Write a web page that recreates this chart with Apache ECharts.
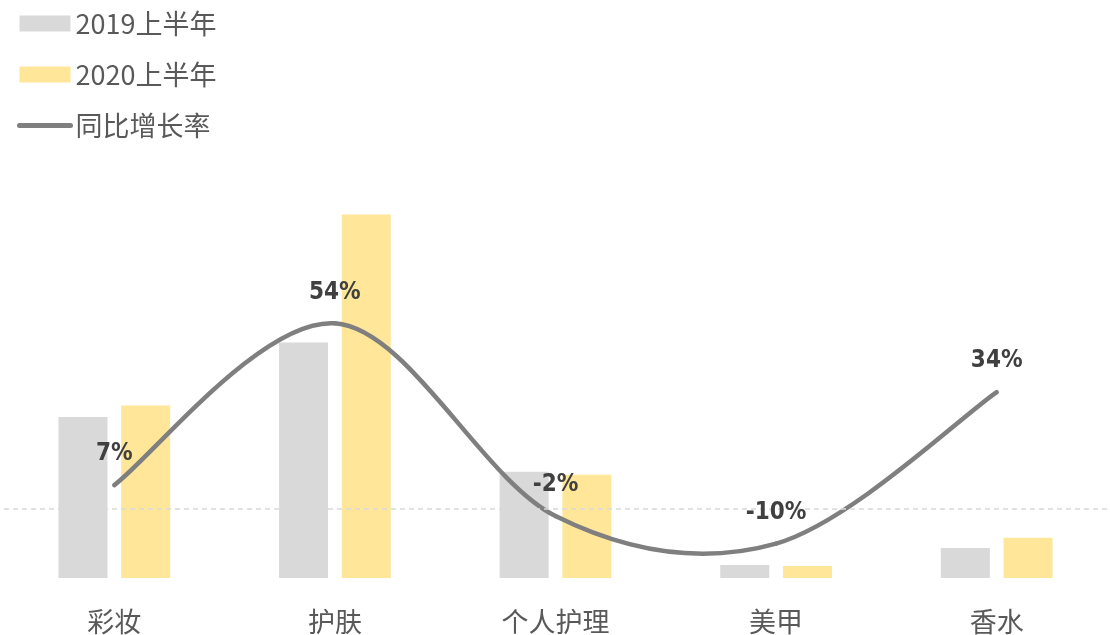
<!DOCTYPE html>
<html>
<head>
<meta charset="utf-8">
<script src="https://cdn.jsdelivr.net/npm/echarts@6/dist/echarts.min.js"></script>
<style>
  html, body { margin: 0; padding: 0; background: #ffffff; }
  #chart { width: 1110px; height: 635px; }
</style>
</head>
<body>
<div id="chart"></div>
<script>
// Categories and values
const categories = ['彩妆', '护肤', '个人护理', '美甲', '香水'];
const sales2019 = [15.6, 22.8, 10.3, 1.26, 2.9];
const sales2020 = [16.7, 35.2, 10.0, 1.16, 3.9];
const growthRate = [7, 54, -2, -10, 34];
const seriesNames = ['2019上半年', '2020上半年', '同比增长率'];

const cjkFont = "'Noto Sans CJK SC', 'Microsoft YaHei', sans-serif";
const narrowFont = "'Liberation Sans Narrow', 'DejaVu Sans Condensed', 'Arial Narrow', sans-serif";
const lineColor = '#7f7f7f';

// Smooth growth curve: cubic Bezier segments with Catmull-Rom style tangents
// (one sixth of the chord between neighbouring points), positioned via api.coord.
function renderCurveSegment(params, api) {
  const i = params.dataIndex;
  const n = growthRate.length;
  if (i >= n - 1) return null;
  const pt = k => {
    const j = Math.max(0, Math.min(n - 1, k));
    return api.coord([j, growthRate[j]]);
  };
  const p0 = pt(i - 1), p1 = pt(i), p2 = pt(i + 1), p3 = pt(i + 2);
  const t = 1 / 6;
  return {
    type: 'bezierCurve',
    shape: {
      x1: p1[0], y1: p1[1],
      cpx1: p1[0] + (p2[0] - p0[0]) * t, cpy1: p1[1] + (p2[1] - p0[1]) * t,
      cpx2: p2[0] - (p3[0] - p1[0]) * t, cpy2: p2[1] - (p3[1] - p1[1]) * t,
      x2: p2[0], y2: p2[1]
    },
    style: { stroke: lineColor, lineWidth: 4.5, fill: null, lineCap: 'round' },
    silent: true
  };
}

const chart = echarts.init(document.getElementById('chart'), null, { renderer: 'canvas' });

chart.setOption({
  backgroundColor: '#ffffff',
  animation: false,
  legend: {
    orient: 'vertical',
    left: 17,
    top: 10,
    padding: 0,
    itemWidth: 51,
    itemHeight: 16,
    itemGap: 24,
    textStyle: { fontSize: 27, color: '#595959', fontFamily: cjkFont },
    data: [
      { name: seriesNames[0], icon: 'rect' },
      { name: seriesNames[1], icon: 'rect' },
      {
        name: seriesNames[2],
        itemStyle: { color: 'rgba(0,0,0,0)', borderWidth: 0 },
        lineStyle: { color: lineColor, width: 5, cap: 'round', opacity: 1 }
      }
    ]
  },
  grid: { left: 4, right: 3, top: 165, bottom: 57, containLabel: false },
  xAxis: {
    type: 'category',
    data: categories,
    axisLine: { show: false },
    axisTick: { show: false },
    axisLabel: { fontSize: 27, color: '#595959', fontFamily: cjkFont, margin: 30 }
  },
  yAxis: [
    { type: 'value', min: 0, max: 40, show: false },
    { type: 'value', min: -20, max: 100, show: false }
  ],
  series: [
    {
      name: seriesNames[0],
      type: 'bar',
      data: sales2019,
      barWidth: 49,
      barGap: '28%',
      itemStyle: { color: '#d9d9d9' }
    },
    {
      name: seriesNames[1],
      type: 'bar',
      data: sales2020,
      barWidth: 49,
      barGap: '28%',
      itemStyle: { color: '#ffe699' }
    },
    {
      name: 'growthCurve',
      type: 'custom',
      yAxisIndex: 1,
      data: growthRate.map((v, i) => [i, v]),
      encode: { x: 0, y: 1 },
      renderItem: renderCurveSegment,
      silent: true,
      z: 4
    },
    {
      // carries the value labels, legend entry and zero reference line
      name: seriesNames[2],
      type: 'line',
      yAxisIndex: 1,
      data: growthRate,
      symbol: 'circle',
      symbolSize: 0,
      itemStyle: { color: lineColor },
      lineStyle: { color: lineColor, width: 5, opacity: 0 },
      label: {
        show: true,
        position: 'top',
        distance: 19,
        formatter: p => p.value + '%',
        fontFamily: narrowFont,
        fontWeight: 'bold',
        fontSize: 24,
        color: '#404040'
      },
      markLine: {
        silent: true,
        symbol: 'none',
        label: { show: false },
        lineStyle: { color: '#d9d9d9', type: [5, 4], width: 1.5, opacity: 1 },
        data: [{ yAxis: 0 }]
      },
      z: 5
    }
  ]
});
</script>
</body>
</html>
